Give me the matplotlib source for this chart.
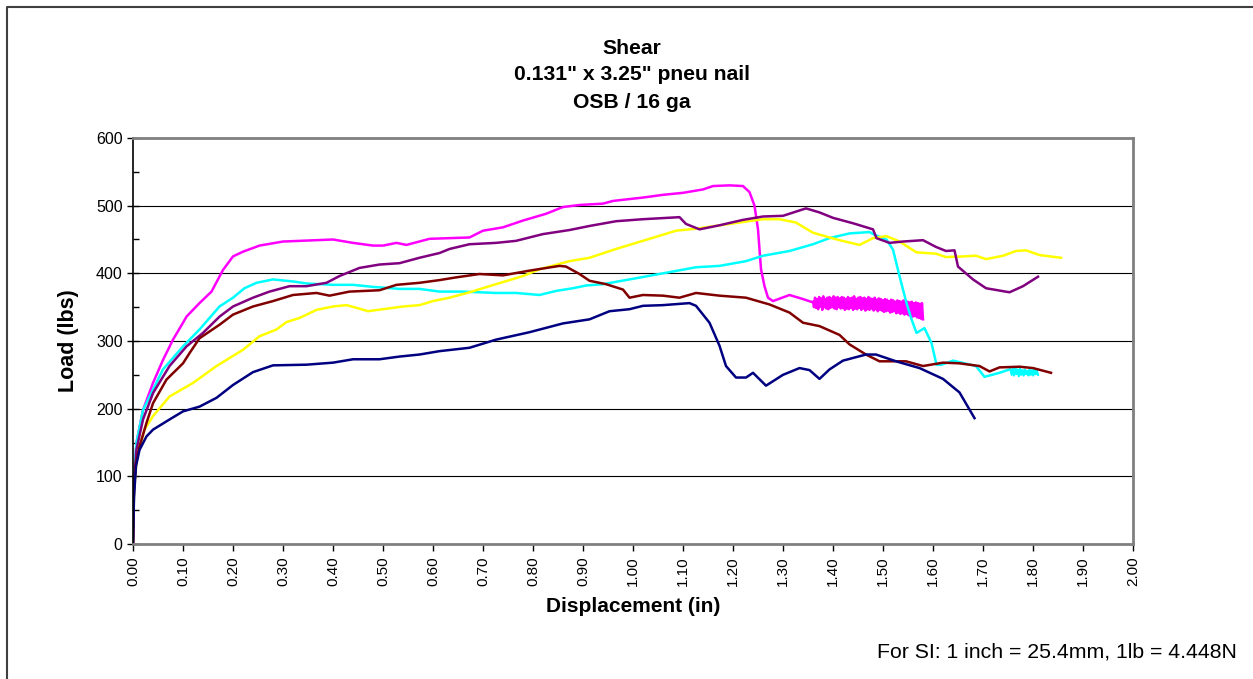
import matplotlib
matplotlib.use("Agg")
import matplotlib.pyplot as plt
import numpy as np
from matplotlib.lines import Line2D
from matplotlib.ticker import MultipleLocator

plt.rcParams['font.family'] = ['Liberation Sans', 'DejaVu Sans']

# load-displacement traces, one pair of lists per specimen
navy_x = [0, 0.002, 0.006, 0.013, 0.027, 0.04, 0.073, 0.10, 0.133, 0.167, 0.20, 0.24, 0.28, 0.347,
          0.40, 0.44, 0.493, 0.533, 0.573, 0.613, 0.673, 0.726, 0.793, 0.86, 0.913, 0.953, 0.993,
          1.02, 1.06, 1.113, 1.126, 1.153, 1.173, 1.186, 1.206, 1.226, 1.24, 1.266, 1.30, 1.333,
          1.353, 1.373, 1.393, 1.42, 1.466, 1.486, 1.526, 1.573, 1.62, 1.653, 1.683]
navy_y = [0, 70, 115, 139, 159, 169, 184, 196, 203, 216, 235, 254, 264, 265,
          268, 273, 273, 277, 280, 285, 290, 302, 313, 326, 332, 344, 347,
          352, 353, 356, 352, 327, 293, 263, 246, 246, 253, 234, 250, 260,
          257, 244, 258, 271, 280, 280, 270, 260, 244, 224, 186]

brown_x = [0, 0.002, 0.006, 0.013, 0.027, 0.04, 0.067, 0.10, 0.113, 0.133, 0.173, 0.20, 0.24, 0.28,
           0.32, 0.367, 0.393, 0.433, 0.493, 0.527, 0.573, 0.613, 0.646, 0.693, 0.74, 0.793, 0.853,
           0.866, 0.893, 0.913, 0.946, 0.98, 0.993, 1.02, 1.06, 1.093, 1.126, 1.173, 1.226, 1.273,
           1.313, 1.34, 1.373, 1.413, 1.433, 1.466, 1.493, 1.546, 1.58, 1.62, 1.653, 1.693, 1.713,
           1.733, 1.773, 1.80, 1.836]
brown_y = [0, 80, 120, 144, 179, 208, 243, 267, 282, 304, 324, 339, 351, 359,
           368, 371, 367, 373, 375, 383, 386, 390, 394, 399, 397, 404, 411,
           410, 399, 389, 384, 376, 364, 368, 367, 364, 371, 367, 364, 354,
           342, 327, 322, 309, 295, 280, 270, 270, 263, 268, 267, 263, 255,
           261, 262, 260, 253]

yellow_x = [0, 0.002, 0.008, 0.023, 0.04, 0.073, 0.12, 0.167, 0.22, 0.253, 0.287, 0.307, 0.333,
            0.367, 0.40, 0.427, 0.447, 0.47, 0.50, 0.54, 0.573, 0.60, 0.633, 0.673, 0.726, 0.78,
            0.813, 0.873, 0.913, 0.966, 1.033, 1.086, 1.126, 1.193, 1.26, 1.293, 1.326, 1.36,
            1.393, 1.413, 1.453, 1.48, 1.507, 1.533, 1.567, 1.606, 1.626, 1.66, 1.686, 1.706,
            1.74, 1.766, 1.786, 1.813, 1.856]
yellow_y = [0, 80, 130, 169, 189, 218, 238, 263, 287, 307, 317, 328, 334,
            346, 351, 353, 349, 344, 347, 351, 353, 359, 364, 372, 384, 396,
            406, 418, 423, 436, 451, 463, 466, 473, 480, 480, 475, 460,
            453, 449, 442, 452, 455, 447, 431, 429, 424, 425, 426, 421,
            426, 433, 434, 427, 423]

purple_x = [0, 0.002, 0.007, 0.02, 0.04, 0.073, 0.107, 0.14, 0.173, 0.20, 0.24, 0.273, 0.313,
            0.347, 0.387, 0.413, 0.453, 0.493, 0.533, 0.573, 0.613, 0.633, 0.673, 0.726, 0.766,
            0.82, 0.873, 0.913, 0.966, 1.02, 1.093, 1.106, 1.133, 1.173, 1.22, 1.26, 1.30, 1.346,
            1.373, 1.40, 1.44, 1.48, 1.487, 1.513, 1.54, 1.58, 1.606, 1.626, 1.643, 1.65, 1.68,
            1.706, 1.753, 1.78, 1.81]
purple_y = [0, 90, 140, 184, 223, 263, 292, 312, 336, 351, 364, 373, 381,
            381, 386, 396, 408, 413, 415, 423, 430, 436, 443, 445, 448,
            458, 464, 470, 477, 480, 483, 473, 465, 471, 479, 484, 485, 496,
            490, 482, 474, 465, 452, 445, 447, 449, 439, 433, 434, 410, 391,
            378, 372, 381, 395]

cyan_x = [0, 0.002, 0.007, 0.02, 0.06, 0.10, 0.133, 0.173, 0.20, 0.223, 0.247, 0.28, 0.32, 0.347,
          0.40, 0.44, 0.48, 0.533, 0.573, 0.613, 0.66, 0.726, 0.766, 0.813, 0.846, 0.88, 0.906,
          0.94, 0.993, 1.06, 1.126, 1.173, 1.226, 1.26, 1.313, 1.36, 1.393, 1.433, 1.473, 1.483,
          1.507, 1.52, 1.533, 1.547, 1.557, 1.567, 1.583, 1.597, 1.607, 1.617, 1.64, 1.686,
          1.703, 1.733, 1.753]
cyan_y = [0, 100, 150, 198, 258, 292, 317, 351, 364, 378, 386, 391, 388, 385,
          383, 383, 380, 377, 377, 373, 373, 371, 371, 368, 374, 378, 382,
          384, 391, 400, 409, 411, 418, 426, 433, 443, 452, 459, 461, 457,
          450, 435, 396, 356, 332, 312, 319, 297, 265, 265, 271, 263,
          247, 253, 258]
# noisy end of the cyan trace, 1.76 - 1.81 in
cyan_tail = [258, 250, 259, 249, 260, 251, 258, 248, 259, 250, 257, 249, 258, 251, 256, 249,
             258, 250, 257, 249, 258, 251, 256, 250]

magenta_x = [0, 0.002, 0.007, 0.02, 0.04, 0.06, 0.08, 0.10, 0.107, 0.133, 0.157, 0.18, 0.20, 0.22,
             0.253, 0.30, 0.40, 0.44, 0.48, 0.50, 0.527, 0.547, 0.593, 0.633, 0.673, 0.70, 0.74,
             0.78, 0.826, 0.86, 0.893, 0.94, 0.96, 1.02, 1.06, 1.10, 1.14, 1.16, 1.193, 1.22,
             1.233, 1.243, 1.25, 1.256, 1.263, 1.27, 1.28, 1.313, 1.34, 1.36]
magenta_y = [0, 100, 150, 198, 238, 272, 302, 327, 336, 356, 373, 405, 425, 432,
             441, 447, 450, 445, 441, 441, 445, 442, 451, 452, 453, 463, 468,
             478, 488, 498, 501, 503, 507, 512, 516, 519, 524, 529, 530, 529,
             520, 500, 465, 406, 381, 364, 359, 368, 362, 357]
# chattering section of the magenta trace after the load drop, 1.36 - 1.58 in
magenta_band = [358, 350, 364, 349, 362, 347, 365, 351, 363, 346, 366, 350, 362, 348,
                364, 347, 365, 349, 363, 350, 366, 348, 364, 347, 365, 350, 363, 348,
                365, 349, 364, 346, 362, 348, 365, 347, 363, 349, 364, 346, 366, 348,
                362, 347, 364, 349, 365, 346, 363, 348, 364, 345, 362, 347, 365, 346,
                363, 348, 362, 345, 364, 347, 361, 344, 363, 346, 362, 345, 360, 343,
                362, 344, 361, 345, 359, 342, 361, 343, 360, 344, 358, 341, 360, 342,
                359, 340, 358, 341, 360, 339, 357, 340, 358, 338, 357, 337, 358, 336,
                356, 337, 357, 335, 356, 334, 355, 333, 356, 332]

fig = plt.figure(figsize=(12.53, 6.79), dpi=100)
ax = fig.add_axes([133 / 1253, 1 - 544 / 679, 1000 / 1253, 406 / 679])

lw = 1.8
ax.plot(magenta_x, magenta_y, color='#FF00FF', lw=lw)
ax.plot(np.linspace(1.36, 1.58, len(magenta_band)), magenta_band, color='#FF00FF', lw=1.8)
ax.plot(cyan_x, cyan_y, color='#00FFFF', lw=lw)
ax.plot(np.linspace(1.755, 1.81, len(cyan_tail)), cyan_tail, color='#00FFFF', lw=1.6)
ax.plot(yellow_x, yellow_y, color='#FFFF00', lw=lw)
ax.plot(purple_x, purple_y, color='#800080', lw=lw)
ax.plot(brown_x, brown_y, color='#800000', lw=lw)
ax.plot(navy_x, navy_y, color='#000080', lw=lw)

ax.set_xlim(0, 2.0)
ax.set_ylim(0, 600)
ax.yaxis.set_major_locator(MultipleLocator(100))
ax.yaxis.set_minor_locator(MultipleLocator(50))
ax.set_xticks(np.arange(0, 2.01, 0.1))
ax.set_xticklabels(['%.2f' % v for v in np.arange(0, 2.01, 0.1)], rotation=90, fontsize=11)
ax.tick_params(axis='y', which='major', direction='inout', length=9, width=1, labelsize=11.5, pad=3)
ax.tick_params(axis='y', which='minor', direction='in', length=4, width=1)
ax.tick_params(axis='x', which='major', direction='out', length=5, width=1, color='#000000', pad=4)

ax.grid(axis='y', which='major', color='#000000', lw=0.8)
ax.set_axisbelow(True)
for side in ['top', 'right', 'bottom']:
    ax.spines[side].set_color('#808080')
    ax.spines[side].set_linewidth(2)
ax.spines['left'].set_color('#000000')
ax.spines['left'].set_linewidth(1.2)

ax.set_xlabel('Displacement (in)', fontsize=15, fontweight='bold', labelpad=8)
ax.set_ylabel('Load (lbs)', fontsize=15.5, fontweight='bold', labelpad=12)

for txt, ypx in [('Shear', 48), ('0.131" x 3.25" pneu nail', 75), ('OSB / 16 ga', 102)]:
    fig.text(632 / 1253, 1 - ypx / 679, txt, ha='center', va='center', fontsize=15.2, fontweight='bold')

fig.text(1237 / 1253, 1 - 652 / 679, 'For SI: 1 inch = 25.4mm, 1lb = 4.448N',
         ha='right', va='center', fontsize=15.3)

# outer chart border, left and top edges only fall inside the image
fig.add_artist(Line2D([7 / 1253, 7 / 1253, 1.0], [0.0, 1 - 7 / 679, 1 - 7 / 679],
                      transform=fig.transFigure, color='#404040', lw=1.5))

fig.savefig('out.png', dpi=100)
